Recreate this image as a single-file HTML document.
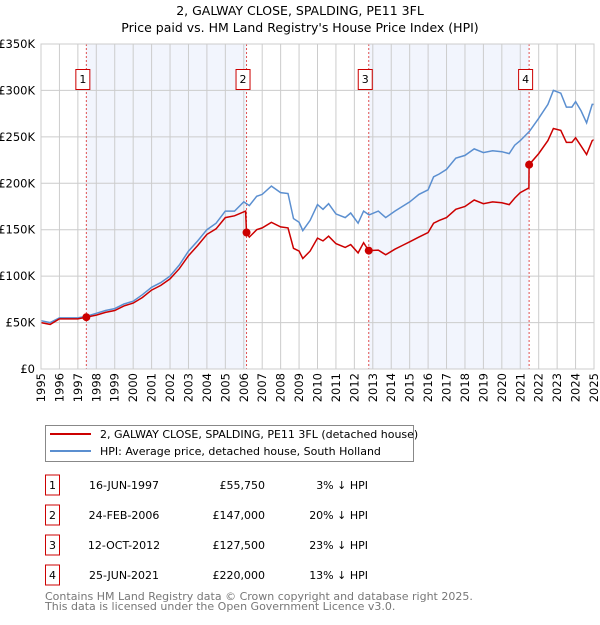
<!DOCTYPE html>
<html><head><meta charset="utf-8"><style>
body{margin:0;background:#fff;font-family:"Liberation Sans",sans-serif;}
svg text{font-family:"DejaVu Sans","Liberation Sans",sans-serif;}
</style></head><body>
<svg id="c" width="600" height="620" xmlns="http://www.w3.org/2000/svg">
<text x="300" y="15" text-anchor="middle" font-size="12.5">2, GALWAY CLOSE, SPALDING, PE11 3FL</text>
<text x="300" y="32" text-anchor="middle" font-size="12.5">Price paid vs. HM Land Registry's House Price Index (HPI)</text>
<g id="plot"></g>
<g>
<rect x="45.5" y="425.5" width="368" height="36" fill="#fff" stroke="#888"/>
<line x1="50" y1="434" x2="91" y2="434" stroke="#cc0000" stroke-width="2"/>
<text x="100" y="438" font-size="11">2, GALWAY CLOSE, SPALDING, PE11 3FL (detached house)</text>
<line x1="50" y1="451" x2="91" y2="451" stroke="#5b8fd0" stroke-width="2"/>
<text x="100" y="455" font-size="11">HPI: Average price, detached house, South Holland</text>
</g>
<g id="tbl" font-size="11"></g>
<text x="45" y="600" font-size="11" fill="#777">Contains HM Land Registry data © Crown copyright and database right 2025.</text>
<text x="45" y="610" font-size="11" fill="#777">This data is licensed under the Open Government Licence v3.0.</text>
</svg>
<script>
const hpiYears=[1995,1995.5,1996,1997,1997.5,1998,1998.5,1999,1999.5,2000,2000.5,2001,2001.5,2002,2002.5,2003,2003.5,2004,2004.5,2005,2005.5,2006,2006.3,2006.7,2007,2007.5,2008,2008.4,2008.7,2009,2009.2,2009.6,2010,2010.3,2010.6,2011,2011.5,2011.8,2012.2,2012.5,2012.8,2013.3,2013.7,2014.2,2014.6,2015,2015.5,2016,2016.3,2016.6,2017,2017.5,2018,2018.5,2019,2019.5,2020,2020.4,2020.7,2021,2021.5,2022,2022.5,2022.8,2023.2,2023.5,2023.8,2024,2024.3,2024.6,2024.9,2025];
const hpiValues=[52,50,55,55,57,60,63,65,70,73,80,88,93,100,112,127,138,150,157,170,170,180,176,186,188,197,190,189,162,158,149,160,177,172,178,167,163,168,157,170,166,170,163,170,175,180,188,193,207,210,215,227,230,237,233,235,234,232,241,246,256,270,285,300,297,282,282,288,278,265,285,285];
const propYears=[1995,1995.5,1996,1997,1997.46,1998,1998.5,1999,1999.5,2000,2000.5,2001,2001.5,2002,2002.5,2003,2003.5,2004,2004.5,2005,2005.5,2006.1,2006.15,2006.3,2006.7,2007,2007.5,2008,2008.4,2008.7,2009,2009.2,2009.6,2010,2010.3,2010.6,2011,2011.5,2011.8,2012.2,2012.5,2012.78,2013.3,2013.7,2014.2,2014.6,2015,2015.5,2016,2016.3,2016.6,2017,2017.5,2018,2018.5,2019,2019.5,2020,2020.4,2020.7,2021,2021.47,2021.48,2022,2022.5,2022.8,2023.2,2023.5,2023.8,2024,2024.3,2024.6,2024.9,2025];
const propValues=[50,48,54,54,55.75,58,61,63,68,71,77,85,90,97,108,122,133,145,151,163,165,170,147,142,150,152,158,153,152,130,127,119,127,141,138,143,135,131,134,125,136,127.5,128,123,129,133,137,142,147,157,160,163,172,175,182,178,180,179,177,184,190,195,220,232,246,259,257,244,244,249,240,231,246,247];
const saleYears=[1997.46,2006.15,2012.78,2021.48];
const saleValues=[55.75,147,127.5,220];
const saleLabels=["1","2","3","4"];
const saleDates=["16-JUN-1997","24-FEB-2006","12-OCT-2012","25-JUN-2021"];
const salePrices=["£55,750","£147,000","£127,500","£220,000"];
const saleDiffs=["3% ↓ HPI","20% ↓ HPI","23% ↓ HPI","13% ↓ HPI"];
const yTicks=[0,50,100,150,200,250,300,350];
const yTickLabels=["£0","£50K","£100K","£150K","£200K","£250K","£300K","£350K"];
const xTicks=[1995,1996,1997,1998,1999,2000,2001,2002,2003,2004,2005,2006,2007,2008,2009,2010,2011,2012,2013,2014,2015,2016,2017,2018,2019,2020,2021,2022,2023,2024,2025];

const X0=41,X1=594,Y0=369,Y1=44;
const x=v=>X0+(v-1995)/(2025-1995)*(X1-X0);
const y=v=>Y0-v/350*(Y0-Y1);
const NS="http://www.w3.org/2000/svg";
const plot=document.getElementById('plot');
function mk(t,a,p){const e=document.createElementNS(NS,t);for(const k in a)e.setAttribute(k,a[k]);(p||plot).appendChild(e);return e;}

for(let i=0;i<saleYears.length;i+=2){
  const r=mk('rect',{x:x(saleYears[i]),y:Y1,width:x(saleYears[i+1])-x(saleYears[i]),height:Y0-Y1,fill:'#f2f5fd'});
  
  
}
xTicks.forEach(t=>{
  mk('line',{x1:x(t),y1:Y1,x2:x(t),y2:Y0,stroke:'#cccccc','stroke-width':1});
  const px=x(t)+4, py=Y0+4;
  const tx=mk('text',{x:px,y:py,'text-anchor':'end','font-size':'11.5',transform:'rotate(-90 '+px+' '+py+')'});tx.textContent=t;
  
  
});
yTicks.forEach((t,i)=>{
  mk('line',{x1:X0,y1:y(t),x2:X1,y2:y(t),stroke:'#cccccc','stroke-width':1});
  const tx=mk('text',{x:X0-6,y:y(t)+4,'text-anchor':'end','font-size':'11.5'});tx.textContent=yTickLabels[i];
  
  
});
saleYears.forEach((s,i)=>{
  const l=mk('line',{x1:x(s),y1:Y1,x2:x(s),y2:Y0,stroke:'#e05050','stroke-width':1,'stroke-dasharray':'2,2'});
  
  
  const bx=mk('rect',{x:x(s)-10.5,y:69.5,width:14,height:20,fill:'#fff',stroke:'#cc0000'});
  
  
  const t=mk('text',{x:x(s)-3.5,y:83,'text-anchor':'middle','font-size':'11'});t.textContent=saleLabels[i];
});
function pathOf(xs,vs){return xs.map((v,i)=>(i?'L':'M')+x(v).toFixed(1)+','+y(vs[i]).toFixed(1)).join('');}
const hp=mk('path',{d:pathOf(hpiYears,hpiValues),fill:'none',stroke:'#5b8fd0','stroke-width':1.5});


const pp=mk('path',{d:pathOf(propYears,propValues),fill:'none',stroke:'#cc0000','stroke-width':1.5});


saleYears.forEach((s,i)=>{
  const c=mk('circle',{cx:x(s),cy:y(saleValues[i]),r:4,fill:'#cc0000'});
  
  
});
mk('rect',{x:X0,y:Y1,width:X1-X0,height:Y0-Y1,fill:'none',stroke:'#cccccc'});

const tbl=document.getElementById('tbl');
saleYears.forEach((s,i)=>{
  const yy=488+i*30;
  const b=mk('rect',{x:45.5,y:yy-13,width:14,height:20,fill:'#fff',stroke:'#cc0000'},tbl);
  
  
  const a=mk('text',{x:52.5,y:yy+1,'text-anchor':'middle'},tbl);a.textContent=saleLabels[i];
  const d=mk('text',{x:124,y:yy+1,'text-anchor':'middle'},tbl);d.textContent=saleDates[i];
  
  
  const p=mk('text',{x:265,y:yy+1,'text-anchor':'end'},tbl);p.textContent=salePrices[i];
  
  
  const h=mk('text',{x:368,y:yy+1,'text-anchor':'end'},tbl);h.textContent=saleDiffs[i];
  
  
});
</script>
</body></html>
